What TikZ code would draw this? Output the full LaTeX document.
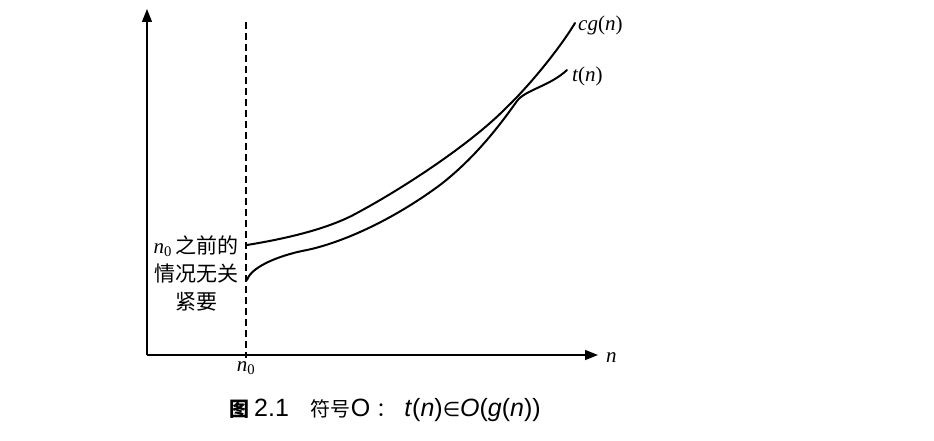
\documentclass[tikz,border=0pt]{standalone}
\usepackage{fontspec}
\setmainfont{Liberation Serif}
\setsansfont{Liberation Sans}
\newfontfamily\cjk{Noto Sans CJK SC}
\newfontfamily\symfont{DejaVu Sans}
\usetikzlibrary{arrows.meta}

\begin{document}
\begin{tikzpicture}[x=1pt, y=-1pt,
  axis/.style={line width=1.4pt, -{Triangle[length=13pt,width=10pt]}},
  curve/.style={line width=2pt, line cap=round},
  lbl/.style={inner sep=0pt, font=\fontsize{21}{21}\selectfont\itshape}]
\useasboundingbox (0,0) rectangle (934,441);
% axes
\coordinate (orig) at (147,355);
\coordinate (ytop) at (147,9);
\coordinate (xend) at (598,355);
\draw[axis] (orig) -- (ytop);
\draw[axis] (orig) -- (xend);
\node[lbl, anchor=west] (nlab) at (606,358) {n};
% n0 line
\coordinate (ntop) at (246,22);
\coordinate (nbot) at (246,358);
\draw[line width=1.2pt, dash pattern=on 7pt off 4pt] (ntop) -- (nbot);
\node[lbl, anchor=north] (nzero) at (246,361) {n\textsubscript{\upshape 0}};
\node[inner sep=0pt, align=center, font=\fontsize{21}{28}\selectfont] (note) at (196,273)
  {\textit{n}\textsubscript{0}\,{\cjk 之前的}\\{\cjk 情况无关}\\{\cjk 紧要}};
% curves
\draw[curve] (247,245) .. controls (290,238) and (330,228) .. (357,213)
  .. controls (400,190) and (470,145) .. (507,107)
  .. controls (530,85) and (560,48) .. (575,23);
\draw[curve] (247,280) .. controls (252,265) and (285,254) .. (307,250)
  .. controls (340,243) and (390,222) .. (440,185)
  .. controls (475,158) and (500,125) .. (517,101)
  .. controls (525,90) and (550,86) .. (567,70);
\node[lbl, anchor=west] (cglab) at (578,25) {cg\upshape(\itshape n\upshape)};
\node[lbl, anchor=west] (tlab) at (572,76) {t\upshape(\itshape n\upshape)};
% caption
\node[inner sep=0pt, anchor=west, font=\sffamily\fontsize{25}{25}\selectfont] (cap) at (229,410)
  {{\cjk\fontsize{20}{20}\selectfont\bfseries 图}\hspace{5pt}2.1\hspace{22pt}{\cjk\fontsize{20}{20}\selectfont 符号}O\hspace{6pt}{\cjk\fontsize{20}{20}\selectfont ：}\hspace{8pt}\textit{t}(\textit{n}){\symfont\fontsize{20}{20}\selectfont ∈}\textit{O}(\textit{g}(\textit{n}))};
\end{tikzpicture}
\end{document}
